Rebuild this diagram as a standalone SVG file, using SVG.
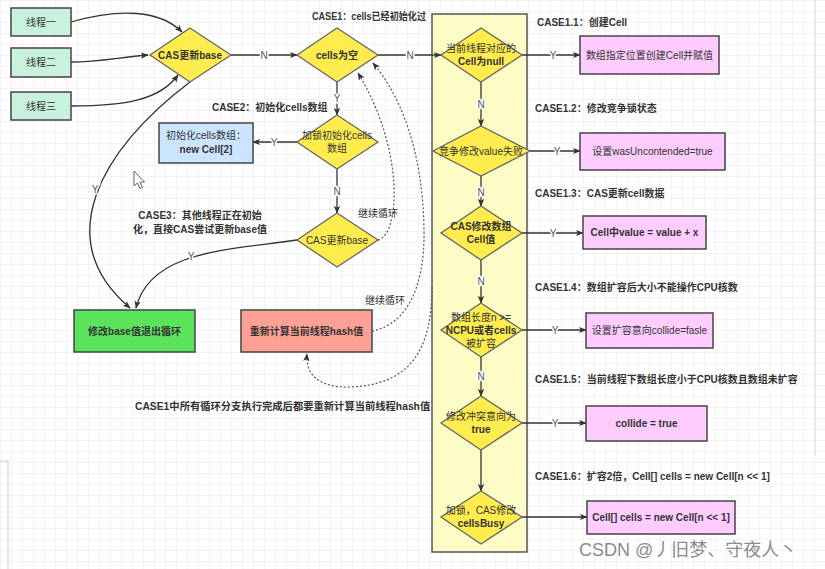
<svg xmlns="http://www.w3.org/2000/svg" width="825" height="569" viewBox="0 0 825 569">
<defs>
<pattern id="grid" width="11" height="11" patternUnits="userSpaceOnUse">
<path d="M11 0 L0 0 0 11" fill="none" stroke="#e8e8e8" stroke-width="1"/>
</pattern>
<marker id="arr" viewBox="0 0 10 10" refX="9" refY="5" markerWidth="8" markerHeight="8" orient="auto" markerUnits="userSpaceOnUse">
<path d="M0,1 L10,5 L0,9 L2.5,5 Z" fill="#333"/>
</marker>
<marker id="arrd" viewBox="0 0 10 10" refX="9" refY="5" markerWidth="8" markerHeight="8" orient="auto" markerUnits="userSpaceOnUse">
<path d="M0,1 L10,5 L0,9 L2.5,5 Z" fill="#333"/>
</marker>
</defs>
<style>
text{font-family:"Liberation Sans","Noto Sans CJK SC",sans-serif;fill:#333;}
.t{font-size:10px;text-anchor:middle;}
.b{font-weight:bold;}
.lab{font-size:10px;font-weight:bold;}
.yn{font-size:10px;text-anchor:middle;fill:#555;stroke:#fff;stroke-width:3px;paint-order:stroke;}
.dia{fill:#ffec4f;stroke:#666;stroke-width:1.3;}
.thr{fill:#c8f2de;stroke:#444;stroke-width:1.5;}
.pink{fill:#ffccff;stroke:#444;stroke-width:1.5;}
.ln{fill:none;stroke:#333;stroke-width:1.3;}
.dot{fill:none;stroke:#555;stroke-width:1.2;stroke-dasharray:2 2;}
</style>
<rect width="825" height="569" fill="#fff"/>
<rect width="825" height="569" fill="url(#grid)"/>
<path d="M815,0 L815,456" stroke="#ddd" stroke-width="1" fill="none"/>
<path d="M0,461 L8,461 L8,569" stroke="#ccc" stroke-width="1" fill="none"/>

<g id="column"><rect x="432" y="14" width="95" height="538" fill="#fdfbc6" stroke="#555" stroke-width="1.5"/></g>

<g id="connectors">
<path class="ln" d="M71,22 C120,8 160,10 182,32" marker-end="url(#arr)"/>
<path class="ln" d="M71,62 C100,62 120,57 148,55" marker-end="url(#arr)"/>
<path class="ln" d="M71,106 C125,106 160,100 178,75" marker-end="url(#arr)"/>
<path class="ln" d="M231,55 L297,55" marker-end="url(#arr)"/>
<text class="yn" x="264" y="59">N</text>
<path class="ln" d="M378,55 L441,55" marker-end="url(#arr)"/>
<text class="yn" x="410" y="59">N</text>
<path class="ln" d="M190,82 C100,150 50,240 130,308" marker-end="url(#arr)"/>
<text class="yn" x="95" y="193">Y</text>
<path class="ln" d="M297,240 C230,250 150,250 136,308" marker-end="url(#arr)"/>
<text class="yn" x="191" y="260">Y</text>
<path class="ln" d="M337,82 L337,115" marker-end="url(#arr)"/>
<text class="yn" x="337" y="102">Y</text>
<path class="ln" d="M297,142 L253,142" marker-end="url(#arr)"/>
<text class="yn" x="274" y="146">Y</text>
<path class="ln" d="M337,169 L337,213" marker-end="url(#arr)"/>
<text class="yn" x="337" y="195">N</text>
<path class="ln" d="M481,82 L481,126" marker-end="url(#arr)"/>
<text class="yn" x="481" y="108">N</text>
<path class="ln" d="M481,176 L481,206" marker-end="url(#arr)"/>
<text class="yn" x="481" y="196">N</text>
<path class="ln" d="M481,260 L481,303" marker-end="url(#arr)"/>
<text class="yn" x="481" y="285">N</text>
<path class="ln" d="M481,357 L481,396" marker-end="url(#arr)"/>
<text class="yn" x="481" y="380">N</text>
<path class="ln" d="M481,450 L481,491" marker-end="url(#arr)"/>
<path class="ln" d="M522,55 L580,55" marker-end="url(#arr)"/>
<text class="yn" x="553" y="59">Y</text>
<path class="ln" d="M530,151 L580,151" marker-end="url(#arr)"/>
<text class="yn" x="557" y="155">Y</text>
<path class="ln" d="M522,233 L583,233" marker-end="url(#arr)"/>
<text class="yn" x="553" y="237">Y</text>
<path class="ln" d="M522,330 L586,330" marker-end="url(#arr)"/>
<text class="yn" x="555" y="334">Y</text>
<path class="ln" d="M522,423 L586,423" marker-end="url(#arr)"/>
<text class="yn" x="555" y="427">Y</text>
<path class="ln" d="M522,517 L587,517" marker-end="url(#arr)"/>
<path class="dot" d="M378,240 C400,235 405,150 358,73" marker-end="url(#arrd)"/>
<path class="dot" d="M372,331 C405,325 425,290 424,230 C423,150 400,95 373,63" marker-end="url(#arrd)"/>
<path class="dot" d="M432,287 C432,350 410,385 350,387 C320,388 305,375 307,354" marker-end="url(#arrd)"/>
</g>

<g id="thread1"><rect class="thr" x="11" y="8" width="60" height="28"/><text class="t" x="41" y="25.5">线程一</text></g>
<g id="thread2"><rect class="thr" x="11" y="48" width="60" height="29"/><text class="t" x="41" y="66">线程二</text></g>
<g id="thread3"><rect class="thr" x="11" y="92" width="60" height="28"/><text class="t" x="41" y="109.5">线程三</text></g>

<g id="casBase1"><polygon class="dia" points="190,28 231,55 190,82 150,55"/><text class="t b" x="190" y="58.5">CAS更新base</text></g>
<g id="cellsEmpty"><polygon class="dia" points="337,28 378,55 337,82 297,55"/><text class="t b" x="337" y="58.5">cells为空</text></g>
<g id="lockInit"><polygon class="dia" points="337,115 378,142 337,169 297,142"/><text class="t" x="337" y="139">加锁初始化cells</text><text class="t" x="337" y="152">数组</text></g>
<g id="initCells"><rect x="159" y="123" width="94" height="40" fill="#cce5ff" stroke="#444" stroke-width="1.5"/><text class="t" x="206" y="139">初始化cells数组：</text><text class="t b" x="206" y="153">new Cell[2]</text></g>
<g id="casBase2"><polygon class="dia" points="337,213 378,240 337,267 297,240"/><text class="t" x="337" y="243.5">CAS更新base</text></g>
<g id="exitLoop"><rect x="74" y="310" width="121" height="42" fill="#5be35b" stroke="#444" stroke-width="1.5"/><text class="t b" x="134.5" y="334.5">修改base值退出循环</text></g>
<g id="rehash"><rect x="241" y="310" width="131" height="42" fill="#ffa096" stroke="#444" stroke-width="1.5"/><text class="t b" x="306.5" y="334.5">重新计算当前线程hash值</text></g>

<g id="d11"><polygon class="dia" points="481,28 522,55 481,82 441,55"/><text class="t" x="481" y="52">当前线程对应的</text><text class="t b" x="481" y="65">Cell为null</text></g>
<g id="b11"><rect class="pink" x="580" y="36" width="139" height="38"/><text class="t" x="649.5" y="58.5">数组指定位置创建Cell并赋值</text></g>
<g id="d12"><polygon class="dia" points="481,126 530,151 481,176 433,151"/><text class="t" x="481" y="154.5">竞争修改value失败</text></g>
<g id="b12"><rect class="pink" x="580" y="133" width="145" height="37"/><text class="t" x="652.5" y="155">设置wasUncontended=true</text></g>
<g id="d13"><polygon class="dia" points="481,206 522,233 481,260 441,233"/><text class="t b" x="481" y="230">CAS修改数组</text><text class="t b" x="481" y="243">Cell值</text></g>
<g id="b13"><rect class="pink" x="583" y="216" width="123" height="33"/><text class="t b" x="644.5" y="236">Cell中value = value + x</text></g>
<g id="d14"><polygon class="dia" points="481,303 522,330 481,357 441,330"/><text class="t" x="481" y="321">数组长度n &gt;=</text><text class="t b" x="481" y="334">NCPU或者cells</text><text class="t" x="481" y="347">被扩容</text></g>
<g id="b14"><rect class="pink" x="586" y="313" width="127" height="35"/><text class="t" x="649.5" y="334">设置扩容意向collide=fasle</text></g>
<g id="d15"><polygon class="dia" points="481,396 522,423 481,450 441,423"/><text class="t" x="481" y="420">修改冲突意向为</text><text class="t b" x="481" y="433">true</text></g>
<g id="b15"><rect class="pink" x="586" y="406" width="121" height="35"/><text class="t b" x="646.5" y="427">collide = true</text></g>
<g id="d16"><polygon class="dia" points="481,491 522,517 481,544 441,517"/><text class="t" x="481" y="514">加锁，CAS修改</text><text class="t b" x="481" y="527">cellsBusy</text></g>
<g id="b16"><rect class="pink" x="587" y="501" width="148" height="33"/><text class="t b" x="661" y="521">Cell[] cells = new Cell[n &lt;&lt; 1]</text></g>

<g id="labels">
<text class="lab" x="312" y="20" textLength="114" lengthAdjust="spacingAndGlyphs">CASE1：cells已经初始化过</text>
<text class="lab" x="212" y="111">CASE2：初始化cells数组</text>
<text class="lab" x="200" y="219" text-anchor="middle">CASE3：其他线程正在初始</text>
<text class="lab" x="200" y="233" text-anchor="middle">化，直接CAS尝试更新base值</text>
<text class="t" x="378" y="217">继续循环</text>
<text class="t" x="385" y="304">继续循环</text>
<text class="lab" x="135" y="410" style="font-size:10.3px">CASE1中所有循环分支执行完成后都要重新计算当前线程hash值</text>
<text class="lab" x="537" y="26">CASE1.1：创建Cell</text>
<text class="lab" x="535" y="112">CASE1.2：修改竞争锁状态</text>
<text class="lab" x="535" y="197">CASE1.3：CAS更新cell数据</text>
<text class="lab" x="535" y="291">CASE1.4：数组扩容后大小不能操作CPU核数</text>
<text class="lab" x="535" y="383">CASE1.5：当前线程下数组长度小于CPU核数且数组未扩容</text>
<text class="lab" x="535" y="480">CASE1.6：扩容2倍，Cell[] cells = new Cell[n &lt;&lt; 1]</text>
</g>
<path d="M134,171 L134,186 L137.5,183 L140,188.5 L142.5,187.5 L140,182.2 L144.5,182 Z" fill="#fff" stroke="#666" stroke-width="1"/>
<text x="579" y="556" style="font-size:18px;fill:#8c8c8c;">CSDN @丿旧梦、守夜人丶</text>
</svg>
